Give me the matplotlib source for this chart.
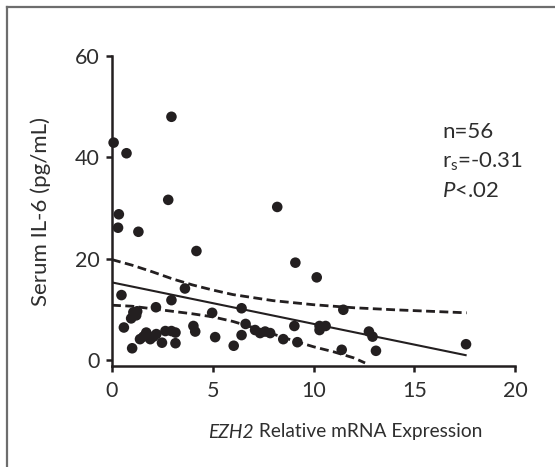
import matplotlib
matplotlib.use("Agg")
import matplotlib.pyplot as plt
from matplotlib.lines import Line2D

plt.rcParams['font.family'] = ['Lato', 'DejaVu Sans']
plt.rcParams['mathtext.fontset'] = 'custom'
plt.rcParams['mathtext.rm'] = 'Lato'
plt.rcParams['mathtext.it'] = 'Lato:italic'

# ---- data ----
ezh2 = [2.95, 0.08, 0.72, 2.79, 0.34, 0.30, 1.31, 4.19, 8.20, 9.10,
        0.47, 3.62, 2.95, 2.18, 1.06, 1.20, 0.95, 0.59, 1.00, 1.39,
        1.56, 1.70, 1.90, 2.06, 2.20, 2.48, 2.65, 2.95, 3.15, 3.15,
        4.04, 4.13, 4.97, 5.12, 6.04, 6.43, 6.43, 6.63, 7.10, 7.35,
        7.60, 7.85, 8.50, 9.05, 9.20, 10.16, 11.48, 10.30, 10.60, 10.30,
        11.40, 12.75, 12.93, 13.10, 17.57, 1.25]
il6 = [48.0, 42.9, 40.8, 31.6, 28.75, 26.1, 25.3, 21.5, 30.2, 19.2,
       12.8, 14.1, 11.8, 10.4, 9.4, 8.8, 8.2, 6.4, 2.3, 4.1,
       4.6, 5.4, 4.1, 4.6, 5.1, 3.4, 5.7, 5.7, 5.4, 3.3,
       6.7, 5.6, 9.3, 4.5, 2.8, 10.2, 4.9, 7.1, 5.9, 5.3,
       5.6, 5.3, 4.1, 6.7, 3.5, 16.3, 9.9, 6.7, 6.7, 5.9,
       2.0, 5.6, 4.6, 1.8, 3.1, 9.6]

fit_x = [0, 17.6]
fit_y = [15.3, 0.9]

upper_x = [0, 1, 2, 3, 4, 5, 6, 8, 10, 12, 14, 17.6]
upper_y = [19.8, 18.7, 17.4, 16.0, 14.8, 13.8, 12.9, 11.7, 10.9, 10.3, 9.9, 9.3]

lower_x = [0, 1, 2, 3, 4, 5, 6, 7, 8, 9, 10, 11, 12, 12.56]
lower_y = [10.8, 10.6, 10.1, 9.6, 9.1, 8.5, 7.6, 6.4, 5.1, 3.8, 2.6, 1.6, 0.4, -0.6]

x_ticks = [0, 5, 10, 15, 20]
y_ticks = [0, 20, 40, 60]
x_label_italic = 'EZH2'
x_label_rest = ' Relative mRNA Expression'
y_label = 'Serum IL-6 (pg/mL)'
stats_lines = ['n=56', r'r$_\mathregular{s}$=-0.31', r'$\mathit{P}$<.02']

ink = '#231f20'
txt = '#2e2e2e'

fig = plt.figure(figsize=(5.55, 4.67), dpi=100)
ax = fig.add_axes([112/555, 1 - 366/467, (515-112)/555, (366-56)/467])

ax.scatter(ezh2, il6, s=58, color=ink, edgecolors='none', zorder=3, clip_on=False)
ax.plot(fit_x, fit_y, color=ink, lw=1.5, solid_capstyle='butt')
ax.plot(upper_x, upper_y, color=ink, lw=2.0, linestyle=(0, (3.2, 1.6)))
ax.plot(lower_x, lower_y, color=ink, lw=2.0, linestyle=(0, (3.2, 1.6)))

ax.set_xlim(0, 20)
ax.set_ylim(-1.2, 60)
ax.set_xticks(x_ticks)
ax.set_yticks(y_ticks)
for s in ['top', 'right']:
    ax.spines[s].set_visible(False)
for s in ['left', 'bottom']:
    ax.spines[s].set_linewidth(1.8)
    ax.spines[s].set_color(ink)
ax.tick_params(axis='both', direction='out', length=4.5, width=1.8, color=ink,
               labelsize=15.5, labelcolor=txt, pad=4.5)
ax.tick_params(axis='x', pad=6)

ax.set_ylabel(y_label, fontsize=16, color=txt)
ax.yaxis.set_label_coords((51 - 112) / 403, 0.5)

t1 = fig.text(208/555, 1 - 432/467, x_label_italic, fontsize=13.8, color=txt,
              style='italic', ha='left', va='center')
ax.annotate(x_label_rest, xy=(1, 0), xycoords=t1, fontsize=13.8, color=txt,
            ha='left', va='bottom', annotation_clip=False)

for i, t in enumerate(stats_lines):
    ax.text(16.4, 43.8 - i*5.8, t, fontsize=16, color=txt, ha='left', va='baseline')

# frame lines (top and left)
fig.add_artist(Line2D([7/555, 7/555], [0, 1 - 7/467], transform=fig.transFigure,
                      color='#6d6d6d', lw=1.6))
fig.add_artist(Line2D([7/555, 1], [1 - 7/467, 1 - 7/467], transform=fig.transFigure,
                      color='#6d6d6d', lw=1.6))

fig.savefig('out.png', dpi=100)
